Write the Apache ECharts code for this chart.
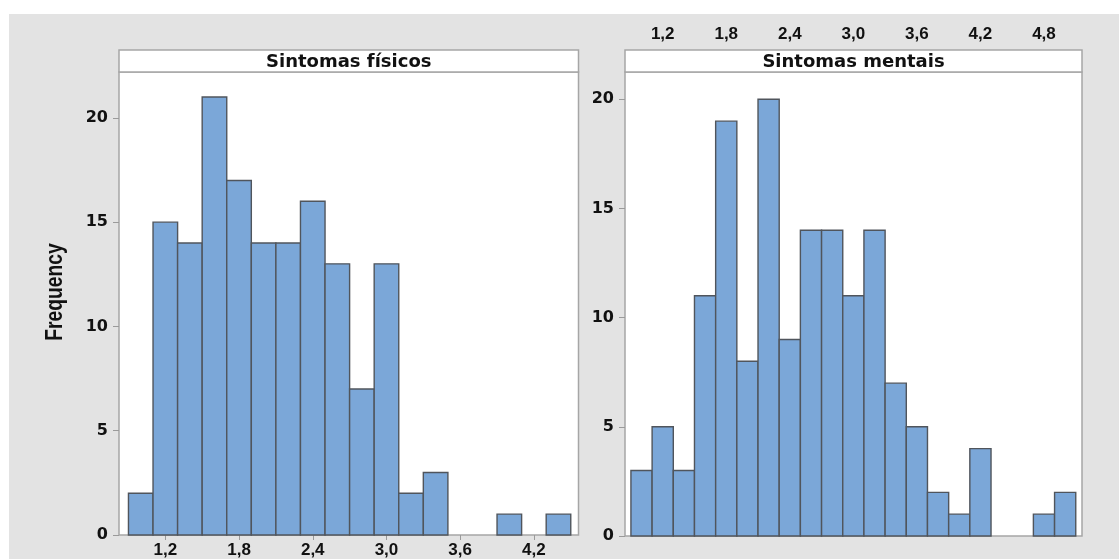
<!DOCTYPE html>
<html>
<head>
<meta charset="utf-8">
<script src="https://cdn.jsdelivr.net/npm/echarts@6/dist/echarts.min.js"></script>
<style>
  html, body { margin: 0; padding: 0; background: #fff; }
  #chart { width: 1119px; height: 559px; }
</style>
</head>
<body>
<div id="chart"></div>
<script>
// Histogram bins (centres) and counts for each panel
const binWidth = 0.2;
const fisicosBins = [1.0, 1.2, 1.4, 1.6, 1.8, 2.0, 2.2, 2.4, 2.6, 2.8, 3.0, 3.2, 3.4, 3.6, 3.8, 4.0, 4.2, 4.4];
const fisicosCounts = [2, 15, 14, 21, 17, 14, 14, 16, 13, 7, 13, 2, 3, 0, 0, 1, 0, 1];
const mentaisBins = [1.0, 1.2, 1.4, 1.6, 1.8, 2.0, 2.2, 2.4, 2.6, 2.8, 3.0, 3.2, 3.4, 3.6, 3.8, 4.0, 4.2, 4.4, 4.6, 4.8, 5.0];
const mentaisCounts = [3, 5, 3, 11, 19, 8, 20, 9, 14, 14, 11, 14, 7, 5, 2, 1, 4, 0, 0, 1, 2];

// Tick positions
const fisicosXTicks = [1.2, 1.8, 2.4, 3.0, 3.6, 4.2];
const mentaisXTicks = [1.2, 1.8, 2.4, 3.0, 3.6, 4.2, 4.8];
const yTicks = [0, 5, 10, 15, 20];

const panelTitles = ['Sintomas físicos', 'Sintomas mentais'];
const yAxisTitle = 'Frequency';

const BAR_FILL = '#7ba7d8';
const BAR_STROKE = '#50555c';
const FRAME = '#a6a6a6';

const chart = echarts.init(document.getElementById('chart'), null, { renderer: 'canvas' });

const commaFmt = v => Number(v).toFixed(1).replace('.', ',');

function histSeries(idx, bins, counts) {
  return {
    type: 'custom',
    xAxisIndex: idx,
    yAxisIndex: idx,
    data: bins.map((c, i) => [c - binWidth / 2, c + binWidth / 2, counts[i]]),
    encode: { x: [0, 1], y: 2 },
    renderItem(params, api) {
      const n = api.value(2);
      if (!n) return null;
      const p0 = api.coord([api.value(0), 0]);
      const p1 = api.coord([api.value(1), n]);
      return {
        type: 'rect',
        shape: { x: p0[0], y: p1[1], width: p1[0] - p0[0], height: p0[1] - p1[1] },
        style: { fill: BAR_FILL, stroke: BAR_STROKE, lineWidth: 1.4 }
      };
    }
  };
}

function xAxisDef(idx, min, max, ticks, position, offset) {
  return {
    type: 'value', gridIndex: idx, min, max, position, offset,
    axisLine: { show: false },
    axisTick: { show: true, customValues: ticks, length: 5, lineStyle: { color: '#9a9a9a', width: 1 } },
    axisLabel: {
      customValues: ticks, formatter: commaFmt, margin: 7,
      color: '#111', fontFamily: "'Liberation Sans', Arial, sans-serif", fontWeight: 'bold', fontSize: 17
    },
    splitLine: { show: false }
  };
}

function yAxisDef(idx, max) {
  return {
    type: 'value', gridIndex: idx, min: 0, max,
    axisLine: { show: false },
    axisTick: { show: true, customValues: yTicks, length: 6, lineStyle: { color: '#9a9a9a', width: 1 } },
    axisLabel: {
      customValues: yTicks, margin: 11,
      color: '#111', fontFamily: "'DejaVu Sans', sans-serif", fontWeight: 'bold', fontSize: 16
    },
    splitLine: { show: false }
  };
}

const grids = [
  { left: 119, top: 72, width: 459.5, height: 464 },
  { left: 625, top: 72, width: 457, height: 464 }
];
const stripH = 22;

const strips = [];
grids.forEach((g, i) => {
  strips.push({
    type: 'rect', z: 100,
    shape: { x: g.left, y: g.top - stripH, width: g.width, height: stripH },
    style: { fill: '#fff', stroke: FRAME, lineWidth: 1.5 }
  });
  strips.push({
    type: 'text', z: 101,
    x: g.left + g.width / 2, y: g.top - stripH / 2 + 1,
    style: {
      text: panelTitles[i], fill: '#111', align: 'center', verticalAlign: 'middle',
      font: "bold 18px 'DejaVu Sans', sans-serif"
    }
  });
});

chart.setOption({
  backgroundColor: '#fff',
  animation: false,
  grid: grids.map(g => Object.assign({
    show: true, backgroundColor: '#fff', borderColor: FRAME, borderWidth: 1.5, containLabel: false
  }, g)),
  xAxis: [
    xAxisDef(0, 0.823, 4.563, fisicosXTicks, 'bottom', 0),
    xAxisDef(1, 0.844, 5.159, mentaisXTicks, 'top', stripH)
  ],
  yAxis: [yAxisDef(0, 22.2), yAxisDef(1, 21.25)],
  series: [
    histSeries(0, fisicosBins, fisicosCounts),
    histSeries(1, mentaisBins, mentaisCounts)
  ],
  graphic: [
    {
      type: 'rect', z: -100, silent: true,
      shape: { x: 9, y: 14, width: 1110, height: 545 },
      style: { fill: '#e3e3e3' }
    },
    {
      // condensed vertical axis title
      type: 'text', z: 101,
      x: 56, y: 292, rotation: Math.PI / 2, scaleX: 0.84,
      style: {
        text: yAxisTitle, fill: '#111', align: 'center', verticalAlign: 'middle',
        font: "bold 23px 'Liberation Sans', Arial, sans-serif"
      }
    }
  ].concat(strips)
});
</script>
</body>
</html>
